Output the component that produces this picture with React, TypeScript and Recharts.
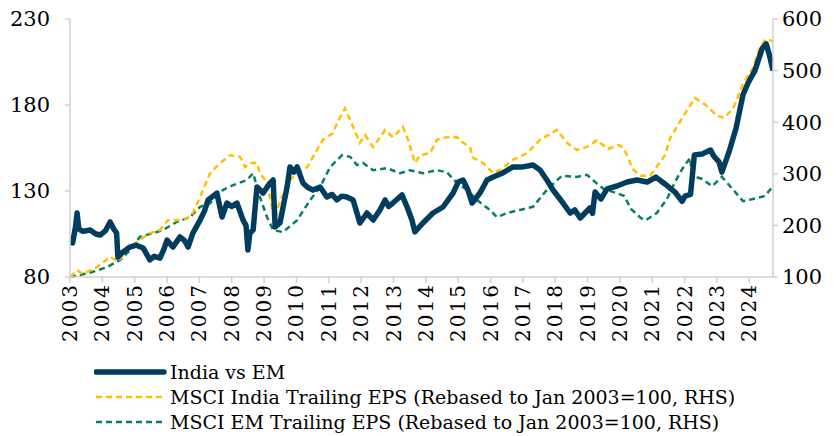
import React from "react";
import { LineChart, Line, XAxis, YAxis, Legend } from "recharts";

// [year, value] pairs
const indiaVsEm: [number, number][] = [
  [2003.0, 100.3], [2003.08, 99.8], [2003.17, 109], [2003.22, 117.2], [2003.27, 108],
  [2003.4, 106.5], [2003.62, 107.3], [2003.8, 105], [2003.93, 104.4], [2004.1, 107],
  [2004.24, 112.0], [2004.35, 108], [2004.44, 105.6], [2004.48, 91.6], [2004.6, 94],
  [2004.85, 97.4], [2005.05, 98.5], [2005.26, 96.9], [2005.47, 89.9], [2005.6, 92],
  [2005.78, 91.0], [2005.9, 96], [2006.0, 101.5], [2006.18, 97.4], [2006.4, 103.3],
  [2006.55, 101], [2006.65, 97.4], [2006.8, 105.6], [2007.02, 113.1], [2007.15, 118],
  [2007.27, 124.8], [2007.54, 128.8], [2007.7, 114.9], [2007.85, 123.0], [2008.0, 121],
  [2008.16, 123.0], [2008.35, 113.1], [2008.44, 110], [2008.5, 95.7], [2008.56, 105.6],
  [2008.66, 107.3], [2008.78, 132.3], [2008.97, 128.8], [2009.18, 134.7], [2009.28, 136.4],
  [2009.34, 109.1], [2009.49, 111.4], [2009.71, 132.3], [2009.8, 144.0], [2009.92, 141],
  [2010.02, 144.0], [2010.2, 134.7], [2010.35, 132], [2010.51, 130.6], [2010.73, 132.3],
  [2010.94, 126.5], [2011.1, 128], [2011.25, 124.8], [2011.4, 127], [2011.56, 126.5],
  [2011.75, 124.8], [2011.87, 117.2], [2011.96, 111.4], [2012.18, 117.2], [2012.37, 113.1],
  [2012.58, 119.0], [2012.74, 124.8], [2012.85, 121], [2012.98, 123.0], [2013.26, 127.7],
  [2013.42, 120.7], [2013.57, 113.1], [2013.66, 106.2], [2013.91, 111.4], [2014.22, 117.2],
  [2014.53, 120.7], [2014.84, 128.8], [2015.0, 135.2], [2015.15, 136.4], [2015.3, 130.6],
  [2015.43, 123.0], [2015.67, 128.8], [2015.89, 136.4], [2016.08, 138.1], [2016.38, 140.5],
  [2016.69, 144.0], [2017.0, 144.0], [2017.31, 145.1], [2017.53, 142.2], [2017.74, 136.4],
  [2017.93, 130.6], [2018.24, 123.0], [2018.46, 117.2], [2018.6, 119], [2018.77, 114.3],
  [2019.07, 120.1], [2019.15, 117], [2019.23, 129.4], [2019.41, 125.3], [2019.6, 131.2],
  [2019.91, 132.9], [2020.22, 135.2], [2020.53, 136.4], [2020.84, 135.2], [2021.11, 138.1],
  [2021.39, 134.1], [2021.7, 129.4], [2021.92, 124], [2022.01, 127], [2022.18, 128],
  [2022.3, 151], [2022.54, 151.5], [2022.8, 153.8], [2022.91, 150], [2023.06, 146.9],
  [2023.15, 141.0], [2023.37, 152.7], [2023.59, 166.6], [2023.8, 185.8], [2023.96, 192.8],
  [2024.17, 200], [2024.4, 213], [2024.52, 215.5], [2024.62, 209], [2024.73, 200],
];

const indiaEps: [number, number][] = [
  [2003.0, 100], [2003.22, 113], [2003.4, 106], [2003.83, 119], [2004.24, 139],
  [2004.48, 130], [2004.85, 158], [2005.16, 172], [2005.47, 185], [2005.78, 191],
  [2006.03, 210], [2006.31, 210], [2006.62, 214], [2006.8, 224], [2007.02, 255],
  [2007.33, 301], [2007.64, 321], [2007.95, 336], [2008.26, 333], [2008.41, 313],
  [2008.56, 321], [2008.78, 321], [2008.87, 301], [2009.03, 288], [2009.18, 255],
  [2009.34, 210], [2009.43, 236], [2009.55, 255], [2009.8, 288], [2010.02, 301],
  [2010.33, 313], [2010.51, 333], [2010.82, 366], [2011.13, 379], [2011.25, 398],
  [2011.5, 427], [2011.75, 391], [2011.96, 360], [2012.12, 375], [2012.37, 352],
  [2012.74, 385], [2012.98, 371], [2013.29, 391], [2013.45, 366], [2013.66, 321],
  [2013.82, 336], [2014.13, 340], [2014.34, 366], [2014.65, 371], [2014.96, 371],
  [2015.15, 360], [2015.36, 352], [2015.46, 331], [2015.77, 321], [2016.08, 301],
  [2016.29, 307], [2016.69, 327], [2017.13, 340], [2017.53, 366], [2018.05, 385],
  [2018.36, 360], [2018.67, 346], [2018.98, 352], [2019.29, 365], [2019.63, 348],
  [2019.97, 356], [2020.13, 348], [2020.4, 309], [2020.65, 296], [2020.93, 296],
  [2021.15, 315], [2021.39, 336], [2021.55, 369], [2021.92, 408], [2022.32, 447],
  [2022.66, 433], [2022.97, 414], [2023.22, 408], [2023.5, 427], [2023.8, 474],
  [2024.11, 505], [2024.33, 546], [2024.51, 561], [2024.73, 557],
];

const emEps: [number, number][] = [
  [2003.0, 100], [2003.31, 104], [2003.71, 110], [2004.14, 119], [2004.55, 133],
  [2004.95, 158], [2005.16, 178], [2005.57, 185], [2005.87, 191], [2006.31, 207],
  [2006.71, 216], [2007.02, 236], [2007.33, 243], [2007.73, 269], [2008.04, 278],
  [2008.47, 288], [2008.66, 301], [2008.87, 255], [2009.09, 216], [2009.28, 191],
  [2009.58, 187], [2010.02, 210], [2010.42, 249], [2010.73, 274], [2011.04, 313],
  [2011.41, 336], [2011.66, 333], [2011.87, 317], [2012.06, 321], [2012.37, 307],
  [2012.8, 311], [2013.2, 301], [2013.51, 307], [2013.91, 301], [2014.34, 307],
  [2014.65, 303], [2014.96, 282], [2015.27, 269], [2015.58, 249], [2015.98, 230],
  [2016.2, 216], [2016.51, 224], [2016.91, 230], [2017.31, 236], [2017.74, 269],
  [2018.2, 296], [2018.67, 294], [2018.98, 298], [2019.29, 281], [2019.51, 270],
  [2019.88, 263], [2020.13, 257], [2020.34, 232], [2020.65, 214], [2020.8, 210],
  [2021.14, 224], [2021.45, 251], [2021.7, 284], [2021.92, 309], [2022.17, 331],
  [2022.23, 296], [2022.54, 290], [2022.85, 276], [2023.15, 294], [2023.49, 270],
  [2023.8, 247], [2024.11, 251], [2024.48, 257], [2024.73, 276],
];

const yearTicks = [
  2003, 2004, 2005, 2006, 2007, 2008, 2009, 2010, 2011, 2012, 2013,
  2014, 2015, 2016, 2017, 2018, 2019, 2020, 2021, 2022, 2023, 2024,
];
const leftTicks = [80, 130, 180, 230];
const rightTicks = [100, 200, 300, 400, 500, 600];

const seriesNames = [
  "India vs EM",
  "MSCI India Trailing EPS (Rebased to Jan 2003=100, RHS)",
  "MSCI EM Trailing EPS (Rebased to Jan 2003=100, RHS)",
];

const NAVY = "#023d60";
const GOLD = "#ffc000";
const GREEN = "#0a7f5c";
const AXIS = "#d0d0d0";
const FONT = '"DejaVu Serif", serif';

const toRows = (pts: [number, number][]) => pts.map(([t, v]) => ({ t, v }));

const YearTick = (props: any) => {
  const { x, y, payload } = props;
  return (
    <text
      x={x}
      y={y}
      transform={`rotate(-90 ${x} ${y})`}
      textAnchor="end"
      dominantBaseline="central"
      fontFamily={FONT}
      fontSize={20}
      letterSpacing={2}
      fill="#000"
    >
      {payload.value}
    </text>
  );
};

const legendItems = [
  { name: seriesNames[0], color: NAVY, width: 5.5, dash: undefined },
  { name: seriesNames[1], color: GOLD, width: 2.5, dash: "6 4" },
  { name: seriesNames[2], color: GREEN, width: 2.5, dash: "6 4" },
];

const LegendBox = () => (
  <svg width={700} height={84}>
    {legendItems.map((it, i) => {
      const cy = 20 + i * 25;
      return (
        <g key={it.name}>
          <line
            x1={2}
            x2={70}
            y1={cy}
            y2={cy}
            stroke={it.color}
            strokeWidth={it.width}
            strokeDasharray={it.dash}
            strokeLinecap={it.dash ? "butt" : "round"}
          />
          <text x={76} y={cy} dominantBaseline="central" fontFamily={FONT} fontSize={19} fill="#000">
            {it.name}
          </text>
        </g>
      );
    })}
  </svg>
);

export default function App() {
  return (
    <div style={{ position: "absolute", left: 0, top: 0, background: "#fff" }}>
      <LineChart width={836} height={436} margin={{ top: 19, right: 0, bottom: 0, left: 8 }}>
        <XAxis
          dataKey="t"
          type="number"
          domain={[2003, 2024.73]}
          ticks={yearTicks}
          interval={0}
          allowDataOverflow
          height={75}
          tickSize={6}
          tickMargin={0}
          stroke={AXIS}
          strokeWidth={1.5}
          tick={<YearTick />}
        />
        <YAxis
          yAxisId="left"
          type="number"
          domain={[80, 230]}
          ticks={leftTicks}
          width={62}
          tickSize={5}
          tickMargin={15}
          stroke={AXIS}
          strokeWidth={1.5}
          tick={{ fill: "#000", fontFamily: FONT, fontSize: 21 }}
        />
        <YAxis
          yAxisId="right"
          orientation="right"
          type="number"
          domain={[100, 600]}
          ticks={rightTicks}
          width={63}
          tickSize={5}
          tickMargin={4}
          stroke={AXIS}
          strokeWidth={1.5}
          tick={{ fill: "#000", fontFamily: FONT, fontSize: 21 }}
        />
        <Legend
          verticalAlign="bottom"
          height={84}
          content={<LegendBox />}
          wrapperStyle={{ left: 94, width: 700 }}
        />
        <Line
          yAxisId="right"
          data={toRows(emEps)}
          dataKey="v"
          name={seriesNames[2]}
          stroke={GREEN}
          strokeWidth={2.5}
          strokeDasharray="6 4"
          dot={false}
          isAnimationActive={false}
        />
        <Line
          yAxisId="right"
          data={toRows(indiaEps)}
          dataKey="v"
          name={seriesNames[1]}
          stroke={GOLD}
          strokeWidth={2.5}
          strokeDasharray="6 4"
          dot={false}
          isAnimationActive={false}
        />
        <Line
          yAxisId="left"
          data={toRows(indiaVsEm)}
          dataKey="v"
          name={seriesNames[0]}
          stroke={NAVY}
          strokeWidth={5.5}
          strokeLinejoin="round"
          dot={false}
          isAnimationActive={false}
        />
      </LineChart>
    </div>
  );
}
